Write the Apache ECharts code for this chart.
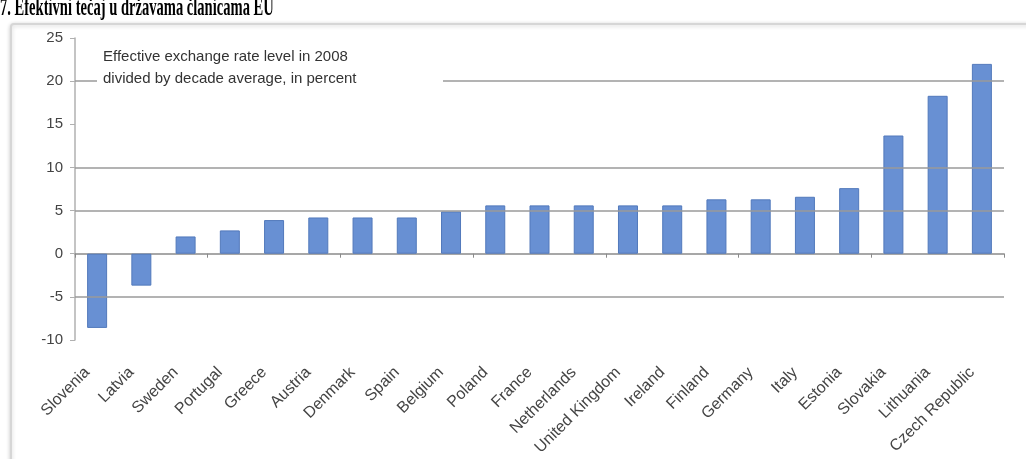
<!DOCTYPE html>
<html>
<head>
<meta charset="utf-8">
<script src="https://cdn.jsdelivr.net/npm/echarts@6/dist/echarts.min.js"></script>
<style>
html,body{margin:0;padding:0;background:#fff;}
#chart{width:1026px;height:459px;}
</style>
</head>
<body>
<div id="chart"></div>
<script>
const categories = ["Slovenia","Latvia","Sweden","Portugal","Greece","Austria","Denmark","Spain","Belgium","Poland","France","Netherlands","United Kingdom","Ireland","Finland","Germany","Italy","Estonia","Slovakia","Lithuania","Czech Republic"];
const values = [-8.6,-3.7,2.0,2.7,3.9,4.2,4.2,4.2,4.9,5.6,5.6,5.6,5.6,5.6,6.3,6.3,6.6,7.6,13.7,18.3,22.0];
const gridValues = [20,10,5,-5];
const titleText = "7. Efektivni tečaj u državama članicama EU";
const noteLines = ["Effective exchange rate level in 2008","divided by decade average, in percent"];

const chart = echarts.init(document.getElementById('chart'), null, {renderer:'canvas'});
chart.setOption({
  animation:false,
  backgroundColor:'#fff',
  grid:{left:75, right:22, top:38, bottom:119, containLabel:false},
  xAxis:[{
    type:'category', data:categories, position:'bottom',
    axisLine:{show:false, onZero:false}, axisTick:{show:false},
    axisLabel:{rotate:45, interval:0, margin:20, padding:[0,14,0,0],
      fontFamily:'Liberation Sans, Arial, sans-serif', fontSize:16, color:'#444'}
  },{
    type:'category', data:categories, position:'top',
    axisLine:{show:true, onZero:true, lineStyle:{color:'#8a8a8a', width:1.5}},
    axisTick:{show:true, inside:true, length:4, lineStyle:{color:'#8a8a8a'}},
    axisLabel:{show:false}
  }],
  yAxis:{
    type:'value', min:-10, max:25, interval:5,
    axisLine:{show:true, lineStyle:{color:'#b0b0b0', width:1.5}},
    axisTick:{show:true, length:5, lineStyle:{color:'#b0b0b0'}},
    splitLine:{show:false},
    axisLabel:{margin:12, fontFamily:'Liberation Sans, Arial, sans-serif', fontSize:15, color:'#444'}
  },
  series:[{
    type:'bar', data:values, xAxisIndex:0, barWidth:20,
    itemStyle:{color:'#6890d3', borderColor:'#5279bb', borderWidth:1},
    markLine:{silent:true, symbol:'none', label:{show:false},
      lineStyle:{color:'#9a9a9a', width:1.5, type:'solid'},
      data:gridValues.map(v=>({yAxis:v}))}
  }],
  graphic:[
    {type:'rect', left:10, top:23, z:0, shape:{width:1040, height:460, r:3},
      style:{fill:'#fff', stroke:'#d6d6d6', lineWidth:2, shadowColor:'rgba(0,0,0,0.18)', shadowBlur:4, shadowOffsetY:1}},
    {type:'text', x:0, y:21, z:10, scaleX:0.56, style:{text:titleText, font:'bold 26px "Liberation Serif", "Times New Roman", serif', fill:'#000', verticalAlign:'bottom'}},
    {type:'rect', x:97, y:46, z:50, shape:{width:346, height:44}, style:{fill:'#fff'}},
    {type:'text', x:103, y:57, z:51, style:{text:noteLines[0], font:'15px "Liberation Sans", Arial, sans-serif', fill:'#333', verticalAlign:'middle'}},
    {type:'text', x:103, y:79, z:51, style:{text:noteLines[1], font:'15px "Liberation Sans", Arial, sans-serif', fill:'#333', verticalAlign:'middle'}}
  ]
});
</script>
</body>
</html>
